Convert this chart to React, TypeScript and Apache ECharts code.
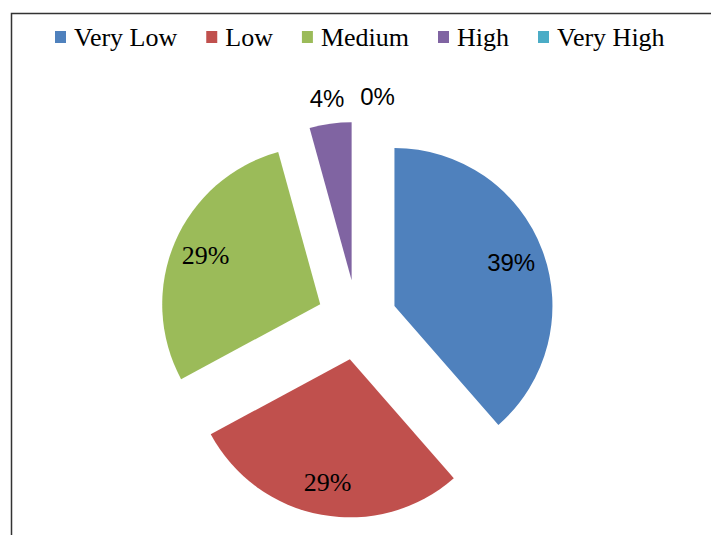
import React, { useEffect, useRef } from "react";
import * as echarts from "echarts";

const categories = ["Very Low", "Low", "Medium", "High", "Very High"];
const values = [27, 20, 20, 3, 0];
const colors = ["#4F81BD", "#C0504D", "#9BBB59", "#8064A2", "#4BACC6"];
const labelStyles = ["sans", "serif", "serif", "sans", "zero"];

const CENTER: [number, number] = [357, 320];
const R = 158;
const OFFSET = 40;

export default function App() {
  const ref = useRef<HTMLDivElement>(null);
  useEffect(() => {
    if (!ref.current) return;
    const chart = echarts.init(ref.current, undefined, { renderer: "svg" });
    const total = values.reduce((a, b) => a + b, 0);
    const pct = (v: number) => Math.round((v / total) * 100) + "%";
    const isBig = (v: number) => v / total >= 0.1;

    const richStyles = {
      sans: { fontFamily: "Liberation Sans", fontSize: 24, color: "#000" },
      serif: { fontFamily: "'Liberation Serif', 'Times New Roman', serif", fontSize: 26, color: "#000" },
      zero: { fontFamily: "Liberation Sans", fontSize: 24, color: "#000", padding: [0, 0, 0, 41] },
    };

    const labelRing = (name: string, avgR: number, big: boolean) => ({
      type: "pie",
      name,
      center: CENTER,
      radius: [avgR - 20, avgR + 20],
      startAngle: 90,
      clockwise: true,
      silent: true,
      selectedMode: false,
      legendHoverLink: false,
      avoidLabelOverlap: false,
      emphasis: { disabled: true },
      itemStyle: { color: "rgba(0,0,0,0)", borderWidth: 0 },
      labelLine: { show: false },
      label: {
        show: true,
        position: "inside",
        rotate: 0,
        color: "#000",
        fontFamily: "Liberation Serif",
        fontSize: 26,
        formatter: (p: any) =>
          isBig(p.value) === big ? `{${labelStyles[p.dataIndex]}|${pct(p.value)}}` : "",
        rich: richStyles,
      },
      data: categories.map((n, i) => ({ name: n, value: values[i] })),
    });

    chart.setOption({
      animation: false,
      backgroundColor: "#ffffff",
      color: colors,
      textStyle: { fontFamily: "Liberation Serif" },
      graphic: [
        {
          type: "rect",
          z: -10,
          shape: { x: 11.5, y: 13.5, width: 800, height: 600 },
          style: { fill: "none", stroke: "#333333", lineWidth: 1.5 },
        },
      ],
      legend: {
        left: 50,
        top: 19,
        icon: "rect",
        itemWidth: 11,
        itemHeight: 12,
        itemGap: 29,
        data: categories,
        textStyle: {
          fontFamily: "Liberation Serif",
          fontSize: 26,
          color: "#000",
          padding: [0, 0, 0, 3],
        },
      },
      series: [
        {
          type: "pie",
          name: "slices",
          center: CENTER,
          radius: R,
          startAngle: 90,
          clockwise: true,
          selectedMode: "multiple",
          selectedOffset: OFFSET,
          avoidLabelOverlap: false,
          emphasis: { disabled: true },
          itemStyle: { borderWidth: 0 },
          label: { show: false },
          labelLine: { show: false },
          data: categories.map((name, i) => ({
            name,
            value: values[i],
            selected: true,
          })),
        },
        labelRing("labels-inside", OFFSET + 0.77 * R, true),
        labelRing("labels-outside", OFFSET + 1.14 * R, false),
      ],
    });
    return () => chart.dispose();
  }, []);
  return (
    <div
      ref={ref}
      style={{ position: "absolute", left: 0, top: 0, width: 711, height: 535 }}
    />
  );
}
